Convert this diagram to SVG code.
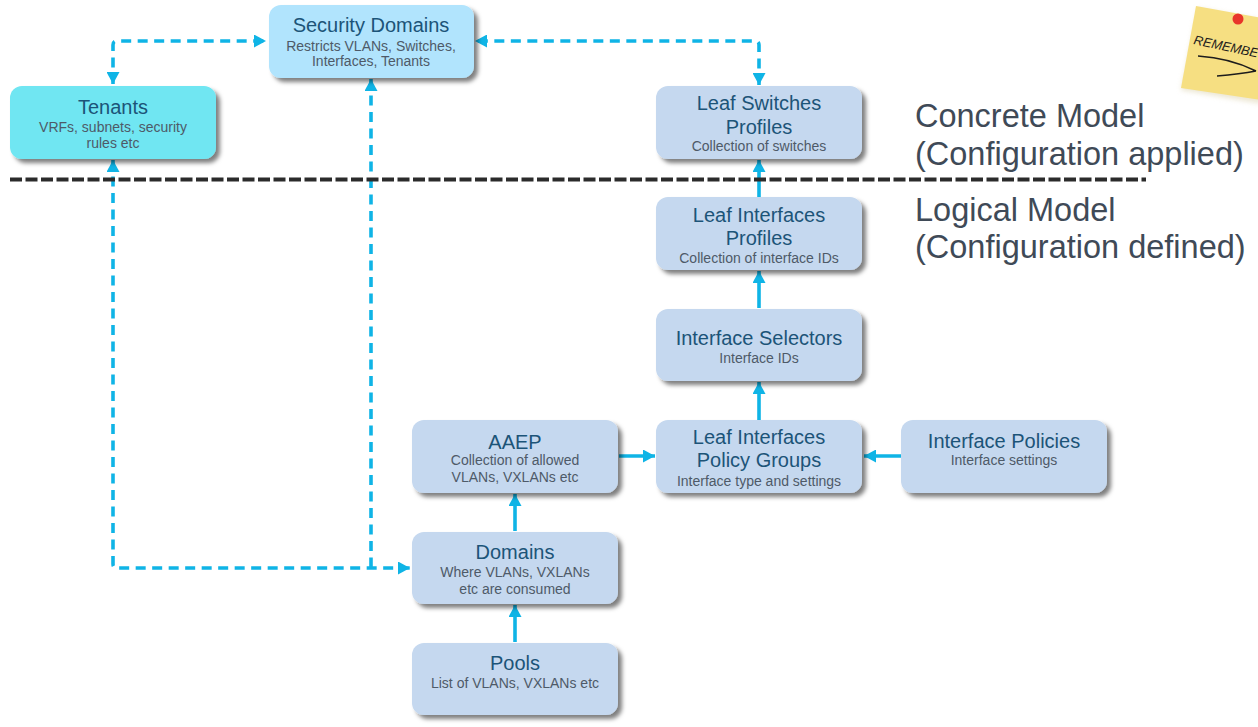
<svg xmlns="http://www.w3.org/2000/svg" width="1258" height="727" viewBox="0 0 1258 727">
<style>
.box{stroke:none;filter:url(#sh)}
.blue{fill:#c5d8ef}
.t{font-family:"Liberation Sans",Arial,sans-serif;font-size:20px;fill:#1c5478;text-anchor:middle}
.s{font-family:"Liberation Sans",Arial,sans-serif;font-size:14px;fill:#4e5a68;text-anchor:middle;transform-box:fill-box}
.m{font-family:"Liberation Sans",Arial,sans-serif;font-size:32.500px;fill:#3f4a57}
.c{fill:none;stroke:#0fb4e6;stroke-width:3.600}
.d{stroke-dasharray:10 6.500}
</style>
<defs>
<filter id="sh" x="-10%" y="-15%" width="125%" height="140%"><feDropShadow dx="4" dy="4" stdDeviation="2.200" flood-color="#000" flood-opacity="0.5"/></filter>
<filter id="sh2" x="-20%" y="-20%" width="140%" height="140%"><feGaussianBlur stdDeviation="2.500"/></filter>
<marker id="a" markerUnits="userSpaceOnUse" markerWidth="13" markerHeight="13" refX="12" refY="6.500" orient="auto-start-reverse"><path d="M0 0L12 6.500L0 13z" fill="#0fb4e6"/></marker>
</defs>

<g id="sticky-note">
<polygon points="1198,8 1262,20 1262,104 1181,90" fill="#d9cfa8" filter="url(#sh2)" opacity="0.5"/>
<polygon points="1196,6 1262,18 1262,100 1181,88" fill="#f6df82"/>
<circle cx="1238" cy="19" r="5.500" fill="#e8352a"/>
<text transform="translate(1193,44) rotate(12)" font-family="Liberation Sans,Arial,sans-serif" font-style="italic" font-size="13" fill="#1c1c1c">REMEMBE</text>
<path d="M1198 56Q1230 58 1256 71M1217 76Q1240 74 1256 71" fill="none" stroke="#1c1c1c" stroke-width="1.600"/>
</g>

<g id="connectors">
<path class="c d" d="M113 84V45Q113 41 117 41H266" marker-start="url(#a)" marker-end="url(#a)"/>
<path class="c d" d="M759 85V45Q759 41 755 41H475" marker-start="url(#a)" marker-end="url(#a)"/>
<path class="c d" d="M113 160V564Q113 568 117 568H410" marker-start="url(#a)" marker-end="url(#a)"/>
<path class="c d" d="M371 79V568" marker-start="url(#a)"/>
<path class="c" d="M759 197V160" marker-end="url(#a)"/>
<path class="c" d="M759 308V271" marker-end="url(#a)"/>
<path class="c" d="M759 420V382" marker-end="url(#a)"/>
<path class="c" d="M619 456H655" marker-end="url(#a)"/>
<path class="c" d="M901 456H864" marker-end="url(#a)"/>
<path class="c" d="M515 531V494" marker-end="url(#a)"/>
<path class="c" d="M515 642V605" marker-end="url(#a)"/>
</g>

<g id="divider"><path d="M10 179.500H1146" stroke="#2b2b2b" stroke-width="4" stroke-dasharray="12 3.500" fill="none"/></g>

<g id="security-domains"><rect class="box" x="269" y="5" width="205" height="73" rx="12" fill="#b1e4fd"/>
<text class="t" x="371" y="32">Security Domains</text><text class="s" x="371" y="51">Restricts VLANs, Switches,</text><text class="s" x="371" y="66">Interfaces, Tenants</text></g>

<g id="tenants"><rect class="box" x="10" y="86" width="206" height="73" rx="12" fill="#70e6f2"/>
<text class="t" x="113" y="114">Tenants</text><text class="s" x="113" y="132">VRFs, subnets, security</text><text class="s" x="113" y="148">rules etc</text></g>

<g id="leaf-switches-profiles"><rect class="box blue" x="656" y="86" width="206" height="73" rx="12"/>
<text class="t" x="759" y="110">Leaf Switches</text><text class="t" x="759" y="134">Profiles</text><text class="s" x="759" y="151">Collection of switches</text></g>

<g id="leaf-interfaces-profiles"><rect class="box blue" x="656" y="197" width="206" height="73" rx="12"/>
<text class="t" x="759" y="222">Leaf Interfaces</text><text class="t" x="759" y="245">Profiles</text><text class="s" x="759" y="263">Collection of interface IDs</text></g>

<g id="interface-selectors"><rect class="box blue" x="656" y="309" width="206" height="72" rx="12"/>
<text class="t" x="759" y="345">Interface Selectors</text><text class="s" x="759" y="363">Interface IDs</text></g>

<g id="leaf-interfaces-policy-groups"><rect class="box blue" x="656" y="420" width="206" height="73" rx="12"/>
<text class="t" x="759" y="444">Leaf Interfaces</text><text class="t" x="759" y="467">Policy Groups</text><text class="s" x="759" y="486">Interface type and settings</text></g>

<g id="interface-policies"><rect class="box blue" x="901" y="420" width="206" height="73" rx="12"/>
<text class="t" x="1004" y="448">Interface Policies</text><text class="s" x="1004" y="465">Interface settings</text></g>

<g id="aaep"><rect class="box blue" x="412" y="420" width="206" height="73" rx="12"/>
<text class="t" x="515" y="449">AAEP</text><text class="s" x="515" y="465">Collection of allowed</text><text class="s" x="515" y="482">VLANs, VXLANs etc</text></g>

<g id="domains"><rect class="box blue" x="412" y="532" width="206" height="72" rx="12"/>
<text class="t" x="515" y="559">Domains</text><text class="s" x="515" y="577">Where VLANs, VXLANs</text><text class="s" x="515" y="594">etc are consumed</text></g>

<g id="pools"><rect class="box blue" x="412" y="643" width="206" height="72" rx="12"/>
<text class="t" x="515" y="670">Pools</text><text class="s" x="515" y="688">List of VLANs, VXLANs etc</text></g>

<g id="model-labels">
<text class="m" x="915" y="127">Concrete Model</text>
<text class="m" x="915" y="165">(Configuration applied)</text>
<text class="m" x="915" y="221">Logical Model</text>
<text class="m" x="915" y="258">(Configuration defined)</text>
</g>
</svg>
